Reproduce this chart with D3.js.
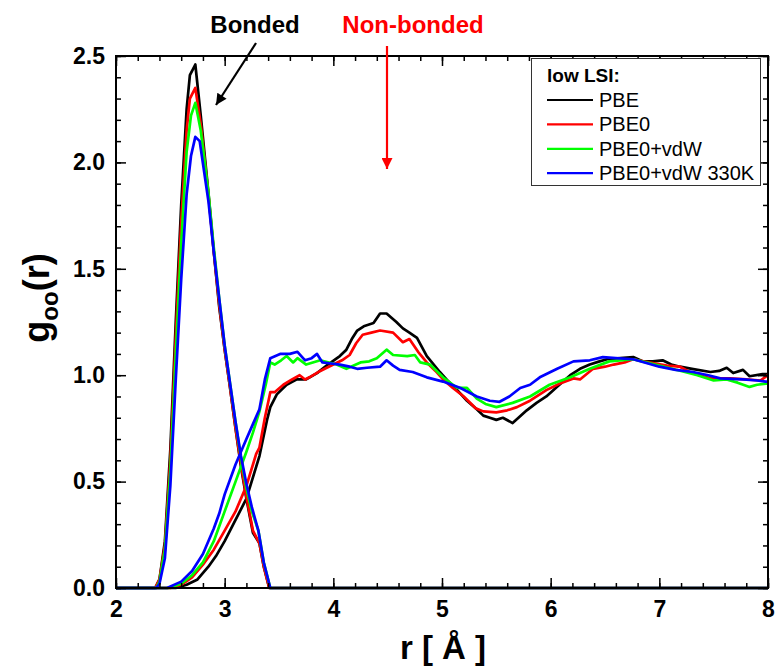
<!DOCTYPE html>
<html><head><meta charset="utf-8">
<script src="https://cdn.jsdelivr.net/npm/d3@7"></script>
<style>body{margin:0;background:#fff}svg{display:block}text{font-family:"Liberation Sans",Arial,sans-serif}</style>
</head><body><svg id="c" width="779" height="666"></svg>
<script>
// ---- data ----
const seriesNames = ["PBE", "PBE0", "PBE0+vdW", "PBE0+vdW 330K"];
const seriesColors = ["#000000", "#ff0000", "#00ff00", "#0000ff"];
const xTicks = [2, 3, 4, 5, 6, 7, 8];
const yTicks = [0.0, 0.5, 1.0, 1.5, 2.0, 2.5];

// bonded g_OO(r): [r, g]
const bondedPBE = [[2.0,0],[2.36,0],[2.40,0.04],[2.45,0.22],[2.50,0.65],[2.55,1.25],[2.60,1.80],[2.65,2.25],[2.68,2.41],[2.73,2.46],[2.78,2.22],[2.85,1.86],[2.90,1.58],[2.95,1.32],[3.00,1.12],[3.05,0.94],[3.10,0.75],[3.15,0.57],[3.20,0.42],[3.26,0.26],[3.32,0.21],[3.36,0.10],[3.41,0],[8.0,0]];
const bondedPBE0 = [[2.0,0],[2.36,0],[2.40,0.04],[2.45,0.20],[2.50,0.60],[2.55,1.18],[2.60,1.72],[2.65,2.15],[2.68,2.30],[2.73,2.35],[2.78,2.18],[2.85,1.85],[2.90,1.58],[2.95,1.33],[3.00,1.12],[3.05,0.94],[3.10,0.75],[3.15,0.58],[3.20,0.43],[3.26,0.27],[3.32,0.21],[3.36,0.10],[3.41,0],[8.0,0]];
const bondedVdW = [[2.0,0],[2.37,0],[2.40,0.03],[2.45,0.18],[2.50,0.55],[2.55,1.10],[2.60,1.62],[2.65,2.05],[2.69,2.22],[2.73,2.28],[2.78,2.15],[2.85,1.86],[2.90,1.60],[2.95,1.36],[3.00,1.14],[3.05,0.96],[3.10,0.78],[3.15,0.61],[3.20,0.47],[3.25,0.36],[3.31,0.27],[3.36,0.12],[3.42,0],[8.0,0]];
const bondedVdW330 = [[2.0,0],[2.37,0],[2.40,0.02],[2.45,0.14],[2.50,0.48],[2.55,0.98],[2.60,1.45],[2.65,1.85],[2.69,2.03],[2.73,2.12],[2.77,2.10],[2.85,1.82],[2.90,1.58],[2.95,1.36],[3.00,1.14],[3.05,0.96],[3.10,0.78],[3.15,0.62],[3.20,0.49],[3.25,0.38],[3.31,0.27],[3.36,0.12],[3.42,0],[8.0,0]];

// non-bonded g_OO(r): [r, g]
const nonbondedPBE = [[2.0,0],[2.55,0],[2.65,0.015],[2.75,0.04],[2.85,0.10],[2.92,0.15],[3.0,0.22],[3.1,0.32],[3.2,0.42],[3.26,0.52],[3.32,0.62],[3.39,0.79],[3.42,0.85],[3.48,0.91],[3.57,0.955],[3.66,0.98],[3.75,0.98],[3.85,1.01],[3.95,1.05],[4.06,1.09],[4.12,1.12],[4.17,1.17],[4.22,1.21],[4.28,1.23],[4.37,1.245],[4.43,1.29],[4.49,1.29],[4.58,1.25],[4.64,1.22],[4.70,1.20],[4.77,1.175],[4.86,1.09],[4.98,1.015],[5.06,0.97],[5.14,0.93],[5.23,0.88],[5.32,0.84],[5.38,0.81],[5.44,0.80],[5.50,0.79],[5.56,0.80],[5.65,0.775],[5.78,0.835],[5.87,0.87],[5.96,0.90],[6.07,0.95],[6.18,1.0],[6.27,1.03],[6.36,1.05],[6.45,1.065],[6.52,1.075],[6.64,1.08],[6.76,1.085],[6.85,1.065],[6.94,1.065],[7.03,1.07],[7.11,1.05],[7.19,1.04],[7.30,1.03],[7.47,1.015],[7.55,1.02],[7.62,1.035],[7.68,1.01],[7.77,1.025],[7.83,0.995],[7.95,1.005],[8.0,1.005]];
const nonbondedPBE0 = [[2.0,0],[2.50,0],[2.60,0.015],[2.70,0.05],[2.80,0.11],[2.90,0.18],[3.0,0.27],[3.1,0.36],[3.2,0.48],[3.29,0.63],[3.32,0.66],[3.37,0.80],[3.42,0.92],[3.46,0.92],[3.54,0.955],[3.62,0.98],[3.69,1.0],[3.74,0.98],[3.78,0.99],[3.88,1.02],[4.0,1.05],[4.08,1.07],[4.15,1.095],[4.21,1.15],[4.27,1.19],[4.35,1.20],[4.43,1.21],[4.55,1.20],[4.64,1.155],[4.70,1.17],[4.78,1.11],[4.86,1.06],[4.94,1.02],[5.01,0.98],[5.10,0.94],[5.20,0.90],[5.31,0.845],[5.38,0.83],[5.50,0.825],[5.60,0.835],[5.69,0.85],[5.81,0.88],[5.96,0.93],[6.08,0.96],[6.21,0.985],[6.27,0.98],[6.39,1.03],[6.50,1.04],[6.58,1.05],[6.68,1.06],[6.76,1.075],[6.90,1.06],[7.07,1.045],[7.19,1.04],[7.30,1.01],[7.47,0.985],[7.65,0.985],[7.80,0.98],[7.93,0.975],[8.0,1.0]];
const nonbondedVdW = [[2.0,0],[2.48,0],[2.60,0.02],[2.70,0.06],[2.80,0.12],[2.90,0.22],[3.0,0.36],[3.1,0.50],[3.2,0.64],[3.26,0.73],[3.32,0.83],[3.38,0.96],[3.42,1.06],[3.46,1.05],[3.52,1.07],[3.57,1.09],[3.63,1.06],[3.67,1.08],[3.75,1.05],[3.88,1.07],[4.03,1.05],[4.12,1.03],[4.25,1.06],[4.33,1.065],[4.40,1.08],[4.49,1.12],[4.55,1.095],[4.68,1.09],[4.75,1.095],[4.80,1.06],[4.89,1.05],[5.01,0.99],[5.14,0.94],[5.23,0.94],[5.32,0.89],[5.40,0.865],[5.50,0.85],[5.65,0.87],[5.81,0.90],[5.99,0.955],[6.18,0.99],[6.36,1.03],[6.54,1.065],[6.76,1.075],[7.0,1.045],[7.2,1.02],[7.35,1.0],[7.50,0.975],[7.62,0.98],[7.72,0.965],[7.83,0.945],[7.90,0.955],[7.98,0.96],[8.0,0.96]];
const nonbondedVdW330 = [[2.0,0],[2.47,0],[2.60,0.03],[2.70,0.08],[2.80,0.16],[2.90,0.28],[2.95,0.35],[3.0,0.44],[3.1,0.58],[3.2,0.70],[3.26,0.77],[3.32,0.84],[3.37,0.98],[3.42,1.08],[3.51,1.10],[3.60,1.10],[3.67,1.11],[3.74,1.07],[3.80,1.08],[3.85,1.10],[3.90,1.06],[3.98,1.055],[4.06,1.05],[4.15,1.04],[4.22,1.03],[4.31,1.035],[4.43,1.04],[4.49,1.07],[4.55,1.045],[4.61,1.025],[4.73,1.015],[4.86,0.99],[5.01,0.97],[5.17,0.94],[5.32,0.90],[5.44,0.88],[5.53,0.875],[5.62,0.90],[5.72,0.94],[5.81,0.955],[5.90,0.99],[6.06,1.03],[6.21,1.065],[6.36,1.07],[6.48,1.085],[6.60,1.08],[6.76,1.075],[7.0,1.04],[7.15,1.025],[7.31,1.015],[7.45,1.0],[7.56,0.985],[7.77,0.98],[7.90,0.975],[7.98,0.97],[8.0,0.97]];

const bondedSeries = [bondedPBE, bondedPBE0, bondedVdW, bondedVdW330];
const nonbondedSeries = [nonbondedPBE, nonbondedPBE0, nonbondedVdW, nonbondedVdW330];

// ---- drawing ----
const svg = d3.select("#c");
const L = 116, R = 768, T = 56, B = 588;
const x = d3.scaleLinear().domain([2, 8]).range([L, R]);
const y = d3.scaleLinear().domain([0, 2.5]).range([B, T]);

const line = d3.line().x(d => x(d[0])).y(d => y(d[1]));
const gLines = svg.append("g");
for (let i = 0; i < 4; i++) {
  gLines.append("path").datum(nonbondedSeries[i]).attr("d", line)
    .attr("fill", "none").attr("stroke", seriesColors[i]).attr("stroke-width", 2.7).attr("stroke-linejoin", "round");
  gLines.append("path").datum(bondedSeries[i]).attr("d", line)
    .attr("fill", "none").attr("stroke", seriesColors[i]).attr("stroke-width", 2.7).attr("stroke-linejoin", "round");
}

// axes
const xMinor = d3.range(2, 8.0001, 0.2);
const yMinor = d3.range(0, 2.5001, 0.1);
function styleAxis(g) { g.select(".domain").remove(); g.selectAll("line").attr("stroke", "#000").attr("stroke-width", 1.5); }
const tickFont = g => g.selectAll("text").attr("font-size", 23).attr("font-weight", "bold").attr("fill", "#000").attr("font-family", "Liberation Sans, Arial, sans-serif");

svg.append("g").attr("transform", `translate(0,${B})`).call(d3.axisBottom(x).tickValues(xMinor).tickSize(-5).tickFormat("")).call(styleAxis);
svg.append("g").attr("transform", `translate(0,${B})`).call(d3.axisBottom(x).tickValues(xTicks).tickSize(-10).tickPadding(13).tickFormat(d3.format("d"))).call(styleAxis).call(tickFont);
svg.append("g").attr("transform", `translate(0,${T})`).call(d3.axisTop(x).tickValues(xMinor).tickSize(-5).tickFormat("")).call(styleAxis);
svg.append("g").attr("transform", `translate(0,${T})`).call(d3.axisTop(x).tickValues(xTicks).tickSize(-10).tickFormat("")).call(styleAxis);

svg.append("g").attr("transform", `translate(${L},0)`).call(d3.axisLeft(y).tickValues(yMinor).tickSize(-5).tickFormat("")).call(styleAxis);
svg.append("g").attr("transform", `translate(${L},0)`).call(d3.axisLeft(y).tickValues(yTicks).tickSize(-10).tickPadding(11).tickFormat(d3.format(".1f"))).call(styleAxis).call(tickFont);
svg.append("g").attr("transform", `translate(${R},0)`).call(d3.axisRight(y).tickValues(yMinor).tickSize(-5).tickFormat("")).call(styleAxis);
svg.append("g").attr("transform", `translate(${R},0)`).call(d3.axisRight(y).tickValues(yTicks).tickSize(-10).tickFormat("")).call(styleAxis);

// frame
svg.append("rect").attr("x", L).attr("y", T).attr("width", R - L).attr("height", B - T)
  .attr("fill", "none").attr("stroke", "#000").attr("stroke-width", 2);

// axis titles
svg.append("text").attr("x", 443).attr("y", 659).attr("text-anchor", "middle")
  .attr("font-size", 33).attr("font-weight", "bold").text("r [ Å ]");
const yt = svg.append("text").attr("transform", "translate(49,298) rotate(-90)").attr("text-anchor", "middle")
  .attr("font-size", 36).attr("font-weight", "bold");
yt.append("tspan").text("g");
yt.append("tspan").attr("font-size", 24).attr("dy", 9).text("oo");
yt.append("tspan").attr("dy", -9).text("(r)");

// annotations
const defs = svg.append("defs");
function marker(id, color) {
  defs.append("marker").attr("id", id).attr("viewBox", "0 0 10 10").attr("refX", 10).attr("refY", 5)
    .attr("markerWidth", 6).attr("markerHeight", 5).attr("markerUnits", "strokeWidth").attr("orient", "auto")
    .append("path").attr("d", "M0,0 L10,5 L0,10 z").attr("fill", color);
}
marker("ah-k", "#000"); marker("ah-r", "#ff0000");
svg.append("text").attr("x", 255).attr("y", 33).attr("text-anchor", "middle").attr("font-size", 24).attr("font-weight", "bold").attr("fill", "#000").text("Bonded");
svg.append("text").attr("x", 413).attr("y", 33).attr("text-anchor", "middle").attr("font-size", 24).attr("font-weight", "bold").attr("fill", "#ff0000").text("Non-bonded");
svg.append("line").attr("x1", 256).attr("y1", 43).attr("x2", 216).attr("y2", 105).attr("stroke", "#000").attr("stroke-width", 2.2).attr("marker-end", "url(#ah-k)");
svg.append("line").attr("x1", 387).attr("y1", 46).attr("x2", 387).attr("y2", 169).attr("stroke", "#ff0000").attr("stroke-width", 2.2).attr("marker-end", "url(#ah-r)");

// legend
const lg = svg.append("g");
lg.append("rect").attr("x", 531.5).attr("y", 58.5).attr("width", 229).attr("height", 127).attr("fill", "#fff").attr("stroke", "#333").attr("stroke-width", 1);
lg.append("text").attr("x", 547).attr("y", 82).attr("font-size", 19).attr("font-weight", "bold").text("low LSI:");
seriesNames.forEach((n, i) => {
  const yy = 100 + i * 24.4;
  lg.append("line").attr("x1", 547).attr("x2", 593).attr("y1", yy).attr("y2", yy).attr("stroke", seriesColors[i]).attr("stroke-width", 2.2);
  lg.append("text").attr("x", 599).attr("y", yy + 7).attr("font-size", 20).text(n);
});
</script></body></html>
